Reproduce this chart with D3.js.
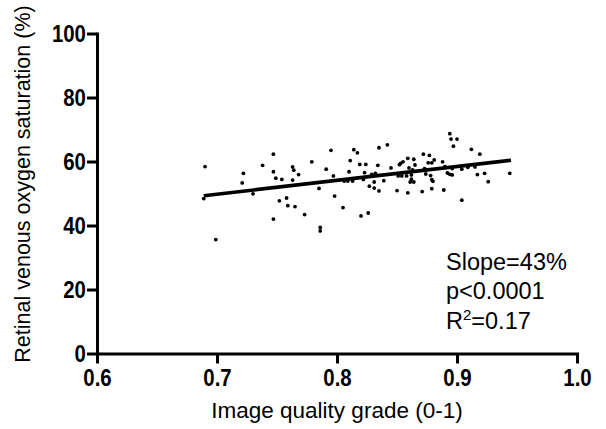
<!DOCTYPE html>
<html>
<head>
<meta charset="utf-8">
<style>
	body { margin: 0; background: #fff; }
	svg { display: block; }
	.axis text { font-family: "Liberation Sans", Arial, sans-serif; font-weight: bold; fill: #000; }
	.lbl { font-family: "Liberation Sans", Arial, sans-serif; fill: #000; }
</style>
</head>
<body>
	<div id="chart"></div>
	<script src="https://cdn.jsdelivr.net/npm/d3@7/dist/d3.min.js"></script>
	<script>
		// image quality grade per measurement
		var grade = [0.689, 0.690, 0.699, 0.721, 0.722, 0.730, 0.738, 0.747, 0.747, 0.749,
			0.754, 0.752, 0.747, 0.759, 0.765, 0.773, 0.758, 0.763, 0.764, 0.763,
			0.768, 0.779, 0.785, 0.786, 0.786, 0.791, 0.795, 0.797, 0.798, 0.805,
			0.806, 0.809, 0.810, 0.811, 0.813, 0.814, 0.817, 0.819, 0.820, 0.822,
			0.823, 0.824, 0.826, 0.827, 0.829, 0.831, 0.831, 0.832, 0.834, 0.835,
			0.835, 0.839, 0.842, 0.845, 0.850, 0.851, 0.852, 0.853, 0.854, 0.855,
			0.858, 0.859, 0.859, 0.860, 0.861, 0.862, 0.862, 0.863, 0.864, 0.864,
			0.865, 0.871, 0.872, 0.873, 0.874, 0.876, 0.877, 0.878, 0.879, 0.879,
			0.879, 0.880, 0.881, 0.888, 0.889, 0.890, 0.892, 0.894, 0.894, 0.895,
			0.896, 0.896, 0.897, 0.900, 0.904, 0.904, 0.909, 0.912, 0.915, 0.917,
			0.919, 0.923, 0.926, 0.944];
		// retinal venous oxygen saturation (%)
		var saturation = [48.4, 58.4, 35.6, 53.3, 56.3, 49.9, 58.8, 62.3, 56.8, 54.8,
			54.4, 47.7, 42.0, 46.2, 45.9, 43.4, 48.6, 58.3, 57.3, 54.2,
			55.9, 59.9, 51.6, 39.4, 38.3, 57.6, 63.5, 55.5, 49.2, 45.6,
			53.9, 53.9, 56.8, 60.3, 53.9, 63.7, 62.7, 59.1, 43.0, 54.4,
			56.5, 59.1, 43.9, 52.3, 56.0, 51.7, 53.6, 56.3, 58.8, 64.3,
			50.8, 54.0, 65.2, 58.0, 50.9, 55.5, 59.0, 59.4, 55.5, 59.9,
			55.5, 61.0, 50.2, 58.0, 53.6, 55.8, 54.5, 57.4, 53.6, 60.7,
			58.9, 50.6, 62.3, 57.8, 56.1, 59.6, 61.9, 55.6, 54.3, 51.5,
			59.6, 53.8, 60.5, 59.9, 51.1, 58.4, 56.4, 68.7, 56.0, 67.0,
			57.8, 55.8, 64.8, 67.0, 57.6, 47.9, 58.2, 63.8, 58.3, 55.9,
			62.3, 56.3, 53.7, 56.3];
		// regression line end points
		var fitX = [0.689, 0.945];
		var fitY = [49.3, 60.4];
		var xTicks = [0.6, 0.7, 0.8, 0.9, 1.0];
		var yTicks = [0, 20, 40, 60, 80, 100];
		var stats = ['Slope=43%', 'p<0.0001', 'R2=0.17'];

		var points = grade.map((g, i) => ({ x: g, y: saturation[i] }));

		var svg = d3.select('#chart').append('svg')
			.attr('width', 606)
			.attr('height', 429);

		var x = d3.scaleLinear()
			.domain([0.6, 1.0])
			.range([97, 577]);
		var y = d3.scaleLinear()
			.domain([0, 100])
			.range([353.5, 33.5]);

		svg.append('g')
			.attr('class', 'axis')
			.attr('transform', 'translate(0,' + y(0) + ')')
			.call(d3.axisBottom(x).tickValues(xTicks).tickFormat(d3.format('.1f'))
				.tickSize(10).tickSizeOuter(0).tickPadding(5))
			.call(g => {
				g.select('.domain').attr('stroke-width', 3).attr('stroke-linecap', 'square')
				g.selectAll('.tick line').attr('stroke-width', 3)
				g.selectAll('text').attr('font-size', 24)
					.attr('transform', 'scale(0.85,1)')
			});

		svg.append('g')
			.attr('class', 'axis')
			.attr('transform', 'translate(' + x(0.6) + ',0)')
			.call(d3.axisLeft(y).tickValues(yTicks)
				.tickSize(10).tickSizeOuter(0).tickPadding(3))
			.call(g => {
				g.select('.domain').attr('stroke-width', 3).attr('stroke-linecap', 'square')
				g.selectAll('.tick line').attr('stroke-width', 3)
				g.selectAll('text').attr('font-size', 24)
					.attr('transform', 'scale(0.85,1)')
					.attr('dy', '0.35em')
			});

		svg.append('g')
			.selectAll('circle')
			.data(points)
			.enter().append('circle')
			.attr('cx', d => x(d.x))
			.attr('cy', d => y(d.y))
			.attr('r', 1.9)
			.attr('fill', '#000');

		var line = d3.line()
			.x(d => x(d[0]))
			.y(d => y(d[1]));
		svg.append('path')
			.attr('d', line(fitX.map((v, i) => [v, fitY[i]])))
			.attr('fill', 'none')
			.attr('stroke', '#000')
			.attr('stroke-width', 3.6);

		// axis titles
		svg.append('text')
			.attr('class', 'lbl')
			.attr('x', x(0.8))
			.attr('y', 418)
			.attr('text-anchor', 'middle')
			.attr('font-size', 22.5)
			.text('Image quality grade (0-1)');

		svg.append('text')
			.attr('class', 'lbl')
			.attr('transform', 'translate(30,' + 184 + ') rotate(-90)')
			.attr('text-anchor', 'middle')
			.attr('font-size', 21.5)
			.text('Retinal venous oxygen saturation (%)');

		// statistics annotation
		var note = svg.append('text')
			.attr('class', 'lbl')
			.attr('font-size', 23.5);
		note.append('tspan').attr('x', 446).attr('y', 270).text(stats[0]);
		note.append('tspan').attr('x', 446).attr('y', 299).text(stats[1]);
		note.append('tspan').attr('x', 446).attr('y', 329).text('R');
		note.append('tspan').attr('dy', -9).attr('font-size', 15).text('2');
		note.append('tspan').attr('dy', 9).text(stats[2].slice(2));
	</script>
</body>
</html>
